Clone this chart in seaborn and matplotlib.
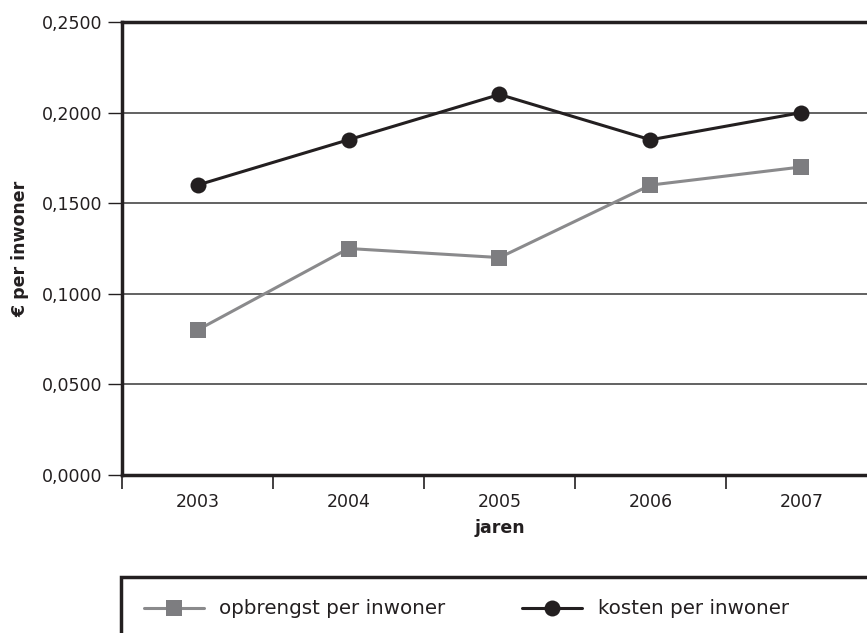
import numpy as np
import pandas as pd
import matplotlib
matplotlib.use("Agg")
import matplotlib.pyplot as plt
import matplotlib.patches as mpatches
import seaborn as sns

jaren = ['2003', '2004', '2005', '2006', '2007']
opbrengst = [0.080, 0.125, 0.120, 0.160, 0.170]
kosten = [0.160, 0.185, 0.210, 0.185, 0.200]
y_ticks = [0.0, 0.05, 0.10, 0.15, 0.20, 0.25]

df = pd.DataFrame({'jaar': jaren, 'opbrengst': opbrengst, 'kosten': kosten})

sns.set_style("white")
plt.rcParams['font.family'] = ['DejaVu Sans']
plt.rcParams['font.size'] = 12.5

fig = plt.figure(figsize=(8.67, 6.33), dpi=100)
ax = fig.add_axes([122 / 867, 1 - 475 / 633, 755 / 867, 453 / 633])

grey = '#8a8a8c'
black = '#231f20'

sns.lineplot(data=df, x='jaar', y='opbrengst', ax=ax, color=grey, linewidth=2.2,
             marker='s', markersize=11.5, markeredgewidth=0, markerfacecolor='#7d7d80',
             label='opbrengst per inwoner')
sns.lineplot(data=df, x='jaar', y='kosten', ax=ax, color=black, linewidth=2.2,
             marker='o', markersize=11.5, markeredgewidth=0,
             label='kosten per inwoner')

ax.set_xlim(-0.5, 4.5)
ax.set_ylim(0, 0.25)
ax.set_yticks(y_ticks)
ax.set_yticklabels([f'{v:.4f}'.replace('.', ',') for v in y_ticks])
ax.yaxis.grid(True, color='#555555', linewidth=1.3)
ax.set_axisbelow(True)

ax.set_xticks(range(len(jaren)))
ax.set_xticklabels(jaren)
ax.set_xticks(np.arange(-0.5, len(jaren), 1), minor=True)
ax.tick_params(axis='x', which='major', bottom=True, length=0, pad=13, colors=black)
ax.tick_params(axis='x', which='minor', bottom=True, length=10, width=1.2,
               color=black, direction='out')
ax.tick_params(axis='y', length=10, width=1, pad=4, color=black, left=True, colors=black)

for side in ['left', 'top', 'bottom', 'right']:
    ax.spines[side].set_color(black)
    ax.spines[side].set_linewidth(2.5)

ax.set_xlabel('jaren', fontweight='bold', labelpad=6, color=black)
ax.set_ylabel('€ per inwoner', fontweight='bold', labelpad=9, color=black)

handles, labels = ax.get_legend_handles_labels()
ax.get_legend().remove()

# legend box runs off the right and bottom edges
box = mpatches.Rectangle((121 / 867, -0.2), 1.0, (1 - 577 / 633) + 0.2,
                         transform=fig.transFigure, fill=False,
                         edgecolor=black, linewidth=2.5, clip_on=False)
fig.patches.append(box)
fig.legend(handles, labels, ncol=2, loc='center left',
           bbox_to_anchor=(144 / 867, 1 - 609 / 633), frameon=False,
           borderpad=0, borderaxespad=0, handlelength=3.0,
           handletextpad=0.8, columnspacing=3.85, fontsize=14.3,
           labelcolor=black)

fig.savefig('out.png', dpi=100)
